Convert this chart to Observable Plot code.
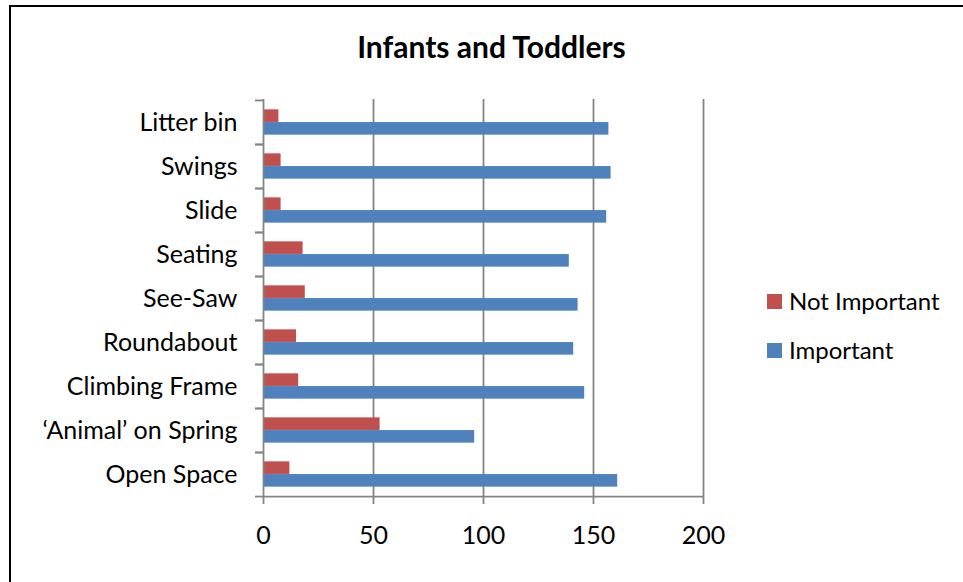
<!DOCTYPE html>
<html>
<head>
<meta charset="utf-8">
<script src="https://cdn.jsdelivr.net/npm/d3@7"></script>
<script src="https://cdn.jsdelivr.net/npm/@observablehq/plot@0.6"></script>
<style>
  html, body { margin: 0; padding: 0; background: #fff; }
  #wrap { position: relative; width: 963px; height: 582px; overflow: hidden; font-family: Lato, "Open Sans", sans-serif; }
  #border { position: absolute; left: 9px; top: 5px; right: -10px; bottom: -10px; border-left: 2px solid #000; border-top: 2px solid #000; }
  #title { position: absolute; left: 0; width: 983px; top: 29px; text-align: center; font-weight: bold; font-size: 30px; line-height: 34px; color: #000; }
  #chart { position: absolute; left: 0; top: 0; }
  .leg { position: absolute; left: 767px; font-size: 24px; line-height: 28px; color: #000; display: flex; align-items: center; }
  .leg .sw { width: 15px; height: 15px; margin-right: 7px; }
</style>
</head>
<body>
<div id="wrap">
  <div id="border"></div>
  <div id="chart"></div>
  <div id="title">Infants and Toddlers</div>
  <div id="legend"></div>
</div>
<script>
const categories = ["Litter bin", "Swings", "Slide", "Seating", "See-Saw", "Roundabout", "Climbing Frame", "\u2018Animal\u2019 on Spring", "Open Space"];
const notImportant = [7, 8, 8, 18, 19, 15, 16, 53, 12];
const important = [157, 158, 156, 139, 143, 141, 146, 96, 161];
const seriesNames = ["Not Important", "Important"];
const seriesColors = ["#C0504D", "#4F81BD"];
const xTicks = [0, 50, 100, 150, 200];

const width = 963, height = 582;
const marginLeft = 263, marginRight = 260, marginTop = 99, marginBottom = 86;
const band = (height - marginTop - marginBottom) / categories.length;
const barH = band * 0.288;
const gapPad = (band - 2 * barH) / 2;

const data = categories.map((c, i) => ({cat: c, ni: notImportant[i], imp: important[i]}));
const gridColor = "#858585";

const chart = Plot.plot({
  width, height, marginLeft, marginRight, marginTop, marginBottom,
  style: {fontFamily: "Lato, 'Open Sans', sans-serif", fontSize: "24px", color: "#000", background: "transparent"},
  x: {domain: [d3.min(xTicks), d3.max(xTicks)], axis: null},
  y: {domain: categories, padding: 0, axis: null},
  marks: [
    Plot.ruleX(xTicks.slice(1), {stroke: gridColor, strokeWidth: 1.8}),
    Plot.barX(data, {x: "ni", y: "cat", fill: seriesColors[0], insetTop: gapPad, insetBottom: gapPad + barH}),
    Plot.barX(data, {x: "imp", y: "cat", fill: seriesColors[1], insetTop: gapPad + barH, insetBottom: gapPad}),
    Plot.ruleX([d3.min(xTicks)], {stroke: gridColor, strokeWidth: 1.8}),
    Plot.ruleY([categories[categories.length - 1]], {x1: d3.min(xTicks), x2: d3.max(xTicks), dy: band / 2, stroke: gridColor, strokeWidth: 1.8}),
    Plot.axisY({tickSize: 8, tickFormat: () => "", label: null, dy: -band / 2, stroke: gridColor, strokeWidth: 1.8}),
    Plot.axisY({tickSize: 8, tickFormat: () => "", label: null, dy: band / 2, stroke: gridColor, strokeWidth: 1.8}),
    Plot.axisY({tickSize: 0, tickPadding: 26, label: null, fontSize: 25, fill: "#000"}),
    Plot.axisX({ticks: xTicks, tickSize: 8, tickPadding: 22, label: null, fontSize: 25, fill: "#000", stroke: gridColor, strokeWidth: 1.8, tickFormat: d3.format("d")})
  ]
});
document.getElementById("chart").appendChild(chart);

const legendTops = [287, 336];
const legend = document.getElementById("legend");
seriesNames.forEach((name, i) => {
  const row = document.createElement("div");
  row.className = "leg";
  row.style.top = legendTops[i] + "px";
  row.innerHTML = `<span class="sw" style="background:${seriesColors[i]}"></span><span>${name}</span>`;
  legend.appendChild(row);
});
</script>
</body>
</html>
